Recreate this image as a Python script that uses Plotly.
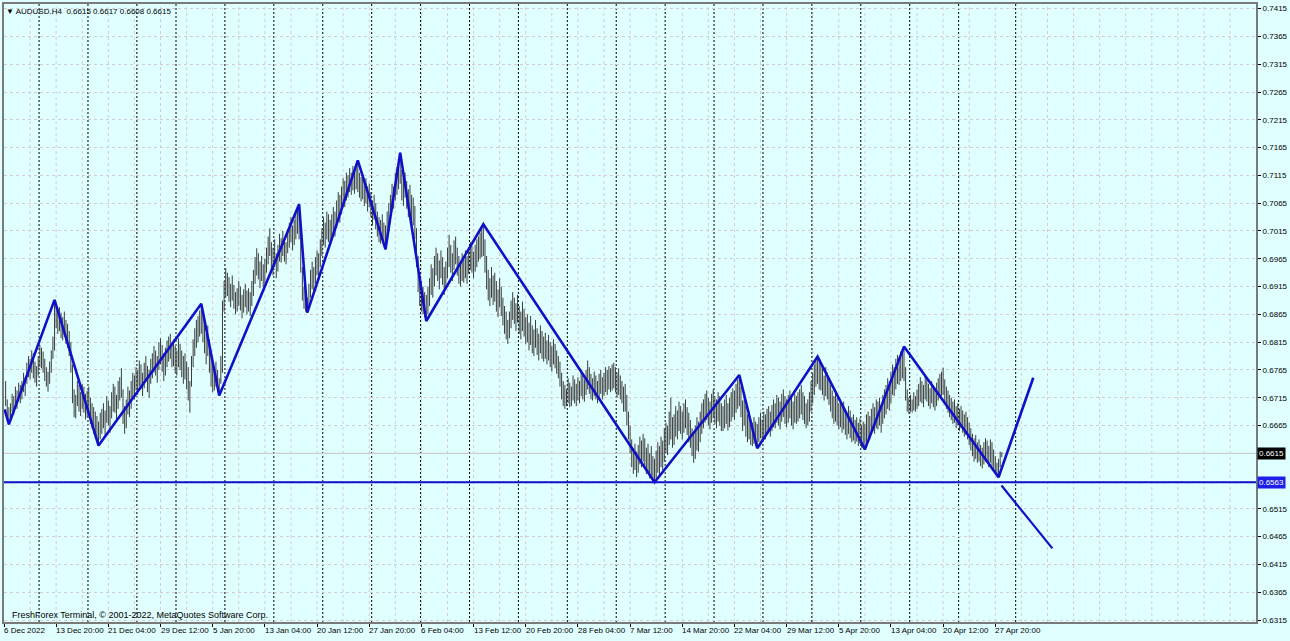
import plotly.graph_objects as go

# ---------------- data (prices in pips, 1 pip = 0.0001) ----------------
high_pips = [
    6745,6712,6698,6705,6722,6718,6735,6728,6742,6738,
    6745,6760,6752,6778,6790,6785,6800,6795,6780,6772,
    6790,6810,6805,6798,6785,6770,6762,6780,6800,6825,
    6891,6885,6872,6878,6868,6860,6870,6855,6848,6835,
    6815,6775,6730,6720,6745,6738,6725,6740,6735,6722,
    6728,6735,6715,6705,6698,6690,6682,6672,6688,6695,
    6705,6692,6718,6710,6700,6725,6740,6735,6720,6745,
    6752,6768,6730,6700,6712,6735,6728,6745,6760,6755,
    6770,6765,6782,6775,6760,6778,6790,6772,6765,6785,
    6795,6808,6800,6790,6815,6822,6810,6795,6805,6818,
    6825,6830,6815,6820,6808,6800,6822,6812,6800,6790,
    6795,6780,6770,6745,6790,6820,6840,6855,6862,6872,
    6884,6865,6850,6830,6845,6820,6790,6775,6760,6780,
    6765,6750,6790,6890,6925,6948,6940,6932,6920,6935,
    6918,6905,6912,6925,6915,6900,6910,6920,6908,6912,
    6905,6925,6945,6968,6984,6975,6960,6970,6955,6965,
    6985,7005,7020,6995,6985,7000,6975,6990,7010,7002,
    7015,7000,6995,7018,7030,7040,7025,7035,7045,7055,
    7063,7010,6950,6915,6900,6895,6920,6945,6960,6950,
    6968,6980,6975,7000,7020,7040,7030,7050,7045,7035,
    7045,7058,7050,7070,7085,7080,7095,7110,7105,7120,
    7115,7128,7120,7132,7125,7135,7142,7120,7112,7118,
    7105,7110,7095,7100,7085,7070,7080,7065,7050,7040,
    7035,7045,7030,7025,7050,7065,7080,7100,7095,7120,
    7130,7140,7156,7125,7110,7120,7105,7090,7098,7080,
    7075,7060,7020,6970,6940,6925,6915,6905,6900,6915,
    6930,6955,6948,6970,6985,6975,6962,6980,6968,6950,
    6960,6985,7008,6990,6975,6998,7005,6985,6970,6960,
    6975,6965,6980,6970,6985,6995,6988,6978,6990,7000,
    7005,7012,7020,7027,7000,6970,6945,6930,6950,6935,
    6940,6925,6910,6930,6915,6895,6880,6870,6855,6870,
    6890,6905,6895,6885,6900,6880,6870,6888,6875,6860,
    6865,6850,6862,6845,6838,6855,6840,6830,6845,6835,
    6825,6832,6818,6828,6815,6808,6820,6812,6800,6790,
    6780,6760,6745,6738,6730,6750,6742,6735,6755,6748,
    6740,6752,6745,6760,6755,6748,6765,6782,6770,6758,
    6750,6762,6755,6745,6758,6765,6752,6760,6770,6765,
    6772,6768,6775,6778,6770,6760,6768,6755,6745,6735,
    6740,6720,6690,6665,6640,6625,6632,6618,6630,6645,
    6638,6650,6642,6625,6632,6615,6628,6610,6605,6620,
    6635,6628,6645,6638,6660,6670,6665,6690,6715,6680,
    6685,6700,6692,6708,6700,6690,6705,6712,6698,6688,
    6675,6660,6650,6665,6680,6672,6690,6705,6712,6722,
    6728,6715,6708,6722,6730,6718,6712,6725,6718,6705,
    6700,6712,6720,6705,6715,6725,6732,6728,6740,6748,
    6756,6735,6710,6720,6700,6685,6690,6675,6670,6680,
    6672,6668,6680,6688,6676,6690,6685,6695,6700,6690,
    6702,6712,6705,6720,6715,6708,6722,6730,6718,6712,
    6720,6728,6715,6708,6722,6718,6725,6730,6738,6725,
    6718,6705,6712,6725,6745,6760,6775,6782,6789,6780,
    6776,6768,6755,6770,6760,6748,6738,6728,6718,6722,
    6715,6705,6712,6700,6708,6695,6688,6700,6692,6680,
    6685,6675,6680,6670,6678,6665,6672,6668,6685,6690,
    6682,6695,6705,6698,6712,6708,6715,6702,6720,6730,
    6738,6750,6745,6762,6775,6770,6785,6792,6788,6798,
    6800,6807,6770,6730,6715,6720,6712,6725,6718,6730,
    6740,6752,6745,6738,6755,6748,6740,6732,6745,6738,
    6730,6742,6750,6758,6762,6769,6748,6735,6728,6720,
    6715,6708,6712,6700,6705,6695,6700,6692,6685,6690,
    6680,6670,6660,6650,6642,6648,6635,6640,6630,6625,
    6635,6642,6638,6628,6640,6635,6622,6610,6598,6605,
    6618,6617,
]
low_pips = [
    6700,6680,6667,6672,6690,6685,6700,6695,6708,6705,
    6712,6725,6718,6740,6752,6748,6760,6750,6742,6735,
    6755,6770,6768,6760,6745,6735,6726,6740,6760,6785,
    6800,6840,6830,6835,6822,6818,6825,6812,6805,6790,
    6760,6705,6680,6678,6700,6690,6682,6695,6688,6676,
    6680,6690,6668,6660,6650,6642,6635,6629,6640,6650,
    6660,6648,6670,6665,6652,6678,6690,6688,6675,6695,
    6710,6715,6668,6650,6660,6685,6680,6695,6715,6712,
    6728,6720,6735,6730,6718,6732,6745,6725,6715,6740,
    6750,6760,6755,6742,6765,6775,6762,6745,6755,6770,
    6780,6785,6770,6772,6760,6755,6770,6765,6752,6740,
    6748,6730,6710,6688,6735,6770,6790,6805,6815,6825,
    6830,6815,6795,6775,6790,6760,6735,6725,6728,6735,
    6725,6719,6740,6760,6870,6895,6898,6888,6878,6890,
    6875,6865,6870,6880,6872,6858,6868,6878,6865,6870,
    6862,6880,6898,6920,6935,6928,6912,6925,6915,6920,
    6940,6955,6970,6945,6935,6950,6930,6942,6960,6958,
    6970,6960,6955,6975,6985,6995,6980,6990,7000,7010,
    7000,6940,6890,6875,6870,6868,6875,6895,6910,6905,
    6920,6935,6928,6950,6970,6990,6985,7000,6995,6990,
    6998,7010,7005,7020,7035,7030,7045,7060,7058,7070,
    7075,7085,7080,7088,7082,7090,7085,7075,7068,7072,
    7060,7065,7050,7058,7040,7025,7035,7018,7005,6995,
    6992,7000,6988,6982,7000,7015,7030,7050,7055,7070,
    7080,7090,7100,7070,7060,7075,7055,7040,7045,7030,
    7025,7000,6950,6905,6880,6870,6865,6860,6853,6865,
    6880,6900,6895,6915,6935,6925,6910,6930,6918,6900,
    6912,6930,6950,6940,6925,6945,6955,6935,6920,6915,
    6925,6922,6930,6920,6938,6945,6940,6930,6942,6950,
    6960,6965,6968,6970,6940,6910,6890,6880,6895,6882,
    6888,6870,6860,6878,6862,6845,6830,6820,6812,6822,
    6840,6855,6848,6835,6850,6830,6820,6835,6825,6812,
    6815,6800,6810,6795,6790,6805,6792,6782,6795,6785,
    6780,6785,6775,6782,6770,6762,6775,6768,6758,6750,
    6735,6712,6700,6695,6700,6705,6698,6700,6710,6705,
    6700,6710,6705,6718,6712,6708,6720,6730,6722,6712,
    6710,6718,6712,6705,6715,6722,6712,6718,6725,6720,
    6730,6725,6728,6732,6725,6715,6720,6712,6705,6690,
    6690,6665,6640,6615,6590,6578,6585,6572,6580,6595,
    6590,6600,6592,6578,6580,6570,6575,6568,6563,6570,
    6580,6575,6590,6585,6600,6615,6612,6630,6640,6625,
    6630,6645,6640,6655,6650,6640,6652,6660,6648,6635,
    6625,6610,6598,6605,6620,6618,6635,6650,6660,6670,
    6675,6665,6658,6670,6678,6668,6660,6672,6665,6655,
    6655,6660,6668,6656,6662,6672,6680,6675,6688,6695,
    6700,6680,6655,6665,6645,6635,6640,6630,6628,6632,
    6628,6624,6635,6642,6638,6645,6640,6650,6655,6645,
    6655,6662,6660,6670,6665,6658,6672,6680,6668,6662,
    6670,6678,6665,6658,6670,6668,6672,6678,6685,6675,
    6668,6660,6665,6672,6690,6705,6720,6735,6740,6730,
    6728,6720,6710,6718,6712,6702,6690,6678,6668,6672,
    6665,6658,6662,6652,6658,6648,6640,6650,6642,6635,
    6638,6632,6636,6628,6632,6625,6626,6622,6635,6642,
    6640,6648,6655,6650,6660,6658,6665,6652,6668,6678,
    6685,6695,6692,6705,6720,6718,6730,6740,6738,6745,
    6750,6745,6710,6690,6686,6690,6688,6692,6690,6695,
    6700,6708,6705,6698,6712,6708,6700,6695,6705,6698,
    6692,6700,6710,6715,6718,6720,6705,6695,6688,6680,
    6675,6668,6670,6660,6665,6655,6660,6652,6645,6648,
    6640,6630,6620,6610,6600,6605,6598,6600,6592,6588,
    6595,6600,6598,6590,6598,6592,6585,6580,6576,6572,
    6590,6608,
]

# zigzag (bar index, price)
zigzag_bars = [-0.6, 2, 30, 57, 120, 131, 180, 185, 216, 233, 242, 258, 293,
               398, 450, 461, 498, 527, 551, 609, 630.3]
zigzag_prices = [0.6694, 0.6667, 0.6891, 0.6629, 0.6884, 0.6719, 0.7063, 0.6868,
                 0.7142, 0.6982, 0.7156, 0.6853, 0.7027, 0.6563, 0.6756, 0.6624,
                 0.6789, 0.6622, 0.6807, 0.6572, 0.6751]
down_line_bars = [610.8, 642.0]
down_line_prices = [0.6557, 0.6444]

support_level = 0.6563
bid_price = 0.6615

week_starts = [21, 51, 81, 105, 135, 165, 195, 225, 255, 285, 315, 345, 375,
               405, 435, 465, 495, 525, 555, 585, 620]
time_labels = ["6 Dec 2022", "13 Dec 20:00", "21 Dec 04:00", "29 Dec 12:00",
               "5 Jan 20:00", "13 Jan 04:00", "20 Jan 12:00", "27 Jan 20:00",
               "6 Feb 04:00", "13 Feb 12:00", "20 Feb 20:00", "28 Feb 04:00",
               "7 Mar 12:00", "14 Mar 20:00", "22 Mar 04:00", "29 Mar 12:00",
               "5 Apr 20:00", "13 Apr 04:00", "20 Apr 12:00", "27 Apr 20:00"]
BARS_PER_LABEL = 32
price_ticks = [round(0.6315 + 0.005 * k, 4) for k in range(23)]
hidden_tick_labels = [0.6565, 0.6615]   # covered by the price markers

header = "\u25bc AUDUSD.H4&nbsp;&nbsp;0.6615 0.6617 0.6608 0.6615"
copyright_txt = "FreshForex Terminal, \u00a9 2001-2022, MetaQuotes Software Corp."

# ---------------- figure ----------------
BG = "#E0FFFF"
BLUE = "#1010C8"
FONT = "Liberation Sans"
X_MIN, X_MAX = -1, 766.9
Y_MIN, Y_MAX = 0.63115, 0.74234

highs = [v / 10000 for v in high_pips]
lows = [v / 10000 for v in low_pips]
bx, by = [], []
for i, (h, l) in enumerate(zip(highs, lows)):
    bx += [i, i, None]
    by += [l, h, None]

fig = go.Figure()
fig.add_trace(go.Scatter(x=bx, y=by, mode="lines",
                         line=dict(color="#3C3C3C", width=1),
                         hoverinfo="skip", showlegend=False))
fig.add_trace(go.Scatter(x=zigzag_bars, y=zigzag_prices, mode="lines",
                         line=dict(color=BLUE, width=2.6),
                         hoverinfo="skip", showlegend=False))
fig.add_trace(go.Scatter(x=down_line_bars, y=down_line_prices, mode="lines",
                         line=dict(color=BLUE, width=2.2),
                         hoverinfo="skip", showlegend=False))

shapes = []
k = 1
while 16 * k - 1 < X_MAX:
    shapes.append(dict(type="line", xref="x", yref="paper", x0=16 * k - 1, x1=16 * k - 1,
                       y0=0, y1=1, layer="below",
                       line=dict(color="#D4CCD4", width=1, dash="3px,3px")))
    k += 1
for w in week_starts:
    shapes.append(dict(type="line", xref="x", yref="paper", x0=w - 0.5, x1=w - 0.5,
                       y0=0, y1=1, layer="below",
                       line=dict(color="#000000", width=1, dash="2px,2px")))
shapes.append(dict(type="line", xref="paper", yref="y", x0=0, x1=1,
                   y0=bid_price, y1=bid_price, layer="below",
                   line=dict(color="#C0C0C0", width=1)))
shapes.append(dict(type="line", xref="paper", yref="y", x0=0, x1=1,
                   y0=support_level, y1=support_level, layer="above",
                   line=dict(color=BLUE, width=2)))

annotations = []
for j, t in enumerate(time_labels):
    annotations.append(dict(x=BARS_PER_LABEL * j - 1, y=0, xref="x", yref="paper",
                            text=t, showarrow=False, xanchor="left", yanchor="top",
                            yshift=-2, xshift=-2,
                            font=dict(family=FONT, size=8, color="#000000")))
annotations.append(dict(x=0, y=1, xref="paper", yref="paper", text=header,
                        showarrow=False, xanchor="left", yanchor="top", xshift=0, yshift=-1,
                        font=dict(family=FONT, size=8, color="#000000")))
annotations.append(dict(x=0, y=0, xref="paper", yref="paper", text=copyright_txt,
                        showarrow=False, xanchor="left", yanchor="middle", xshift=6, yshift=7,
                        font=dict(family=FONT, size=9, color="#000000")))
annotations.append(dict(x=1, y=bid_price, xref="paper", yref="y", text=f"{bid_price:.4f}",
                        showarrow=False, xanchor="left", yanchor="middle", xshift=1,
                        bgcolor="#000000", borderpad=1,
                        font=dict(family=FONT, size=8, color="#FFFFFF")))
annotations.append(dict(x=1, y=support_level, xref="paper", yref="y",
                        text=f"{support_level:.4f}",
                        showarrow=False, xanchor="left", yanchor="middle", xshift=1,
                        bgcolor="#1E1EE6", borderpad=1,
                        font=dict(family=FONT, size=8, color="#FFFFFF")))

fig.update_layout(
    width=1290, height=641,
    margin=dict(l=2, r=34, t=2, b=19),
    paper_bgcolor=BG, plot_bgcolor=BG,
    shapes=shapes, annotations=annotations,
    showlegend=False,
    xaxis=dict(range=[X_MIN, X_MAX], showgrid=False, zeroline=False,
               tickvals=[BARS_PER_LABEL * j - 1 for j in range(len(time_labels))],
               showticklabels=False, ticks="outside", ticklen=3, tickcolor="#000000",
               showline=True, linecolor="#7A7A7A", linewidth=2, mirror=True),
    yaxis=dict(range=[Y_MIN, Y_MAX], side="right", zeroline=False,
               tickvals=price_ticks,
               ticktext=["" if p in hidden_tick_labels else f"{p:.4f}" for p in price_ticks],
               ticks="outside", ticklen=3, tickcolor="#000000",
               tickfont=dict(family=FONT, size=8, color="#000000"),
               showgrid=True, gridcolor="#D4CCD4", griddash="3px,3px", gridwidth=1,
               showline=True, linecolor="#7A7A7A", linewidth=2, mirror=True),
)

fig.write_html(
    "out.html",
    config={"displayModeBar": False},
    post_script="document.body.style.margin='0px';document.body.style.padding='0px';"
                "document.body.style.background='#E0FFFF';",
)
